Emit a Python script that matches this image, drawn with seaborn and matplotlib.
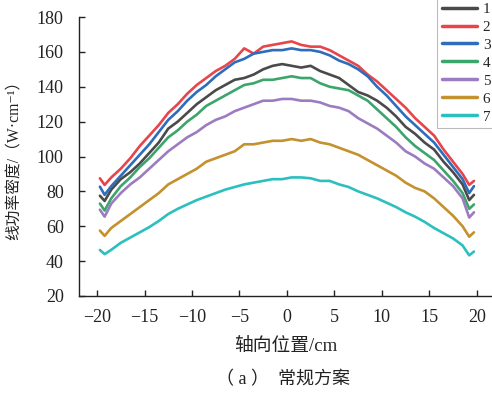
import numpy as np
import pandas as pd
import matplotlib
matplotlib.use("Agg")
import matplotlib.pyplot as plt
import seaborn as sns

# ---- data ----
positions = [-19.7, -19.2, -18.5, -17.5, -16.5, -15.5, -14.5, -13.5, -12.5, -11.5,
             -10.5, -9.5, -8.5, -7.5, -6.5, -5.5, -4.5, -3.5, -2.5, -1.5,
             -0.5, 0.5, 1.5, 2.5, 3.5, 4.5, 5.5, 6.5, 7.5, 8.5,
             9.5, 10.5, 11.5, 12.5, 13.5, 14.5, 15.5, 16.5, 17.5, 18.5,
             19.2, 19.7]

series_labels = ["1", "2", "3", "4", "5", "6", "7"]

s1 = [77.5, 74.5, 81, 87, 91, 96, 102, 108, 116, 120,
      125, 130, 134, 138, 141, 144, 145, 147, 150, 152,
      153, 152, 151, 152, 149, 147, 145, 141, 137, 135,
      132, 128, 123, 117, 113, 108, 104, 97, 91, 84,
      75, 78]
s2 = [87.5, 83.7, 88, 93, 99, 106, 112, 118, 125, 130,
      136, 141, 145, 149, 152, 156, 162, 159, 163, 164,
      165, 166, 164, 163, 163, 161, 158, 155, 152, 147,
      143, 138, 133, 128, 122, 117, 112, 104, 97, 90,
      83.7, 86]
s3 = [82.7, 78, 83, 89, 95, 101, 107, 114, 121, 126,
      132, 137, 141, 146, 150, 154, 156, 159, 160, 161,
      161, 162, 161, 161, 160, 158, 155, 153, 150, 146,
      140, 135, 129, 123, 118, 113, 108, 101, 94, 87,
      79, 83]
s4 = [73, 69, 76, 83, 88, 94, 99, 105, 111, 115,
      120, 124, 129, 132, 135, 138, 141, 142, 144, 144,
      145, 146, 145, 145, 142, 140, 139, 138, 135, 132,
      127, 122, 117, 111, 106, 102, 98, 92, 86, 79,
      70, 72.5]
s5 = [69.5, 65.5, 73, 79, 84, 88, 93, 98, 103, 107,
      111, 114, 118, 121, 123, 126, 128, 130, 132, 132,
      133, 133, 132, 132, 131, 129, 128, 126, 122, 119,
      116, 112, 108, 103, 100, 96, 93, 88, 83, 76,
      65, 68]
s6 = [57.5, 54.5, 59, 63, 67, 71, 75, 79, 84, 87,
      90, 93, 97, 99, 101, 103, 107, 107, 108, 109,
      109, 110, 109, 110, 108, 107, 105, 103, 101, 98,
      95, 92, 89, 85, 82, 80, 76, 71, 66, 60,
      54, 56.5]
s7 = [46.4, 44, 46.5, 50.5, 53.5, 56.5, 59.5, 63, 67, 70,
      72.5, 75, 77, 79, 81, 82.5, 84, 85, 86, 87,
      87, 88, 88, 87.5, 86, 86, 84, 82.5, 80, 78,
      76, 73.5, 71, 68, 65.5, 62.5, 59, 56, 53, 49,
      43.3, 45.5]

x_ticks = [-20, -15, -10, -5, 0, 5, 10, 15, 20]
y_ticks = [20, 40, 60, 80, 100, 120, 140, 160, 180]

colors = ["#4a4a4a", "#e8454b", "#2d6dbb", "#3ba56b", "#9b7cc1", "#c3912d", "#2cbfbf"]

# ---- build long-form table ----
all_series = [s1, s2, s3, s4, s5, s6, s7]
frames = []
for lab, vals in zip(series_labels, all_series):
    frames.append(pd.DataFrame({"pos": positions, "val": vals, "series": lab}))
df = pd.concat(frames, ignore_index=True)

sns.set_style("ticks")
plt.rcParams["font.family"] = ["Liberation Serif", "Noto Sans CJK SC", "DejaVu Sans"]
plt.rcParams["axes.unicode_minus"] = True

fig = plt.figure(figsize=(4.92, 4.0), dpi=100)
ax = fig.add_axes([79 / 492, 1 - 296 / 400, 1 - 79 / 492, (296 - 17) / 400])

sns.lineplot(data=df, x="pos", y="val", hue="series", palette=colors,
             linewidth=1.9, ax=ax, legend=True, sort=False)

ax.set_xlim(-21.9, 21.6)
ax.set_ylim(20, 180)
ax.set_xticks(x_ticks)
ax.set_yticks(y_ticks)
ax.tick_params(direction="in", length=4, width=1, labelsize=13, colors="#222222")
ax.tick_params(axis="x", pad=9)
ax.tick_params(axis="y", pad=11)
for side in ["top", "right"]:
    ax.spines[side].set_visible(False)
for side in ["left", "bottom"]:
    ax.spines[side].set_linewidth(1.0)
    ax.spines[side].set_color("#222222")

ax.set_xlabel("轴向位置/cm", fontsize=13.5, labelpad=9, color="#222222")
ax.set_ylabel("线功率密度/（W·cm⁻¹）", fontsize=11.3, labelpad=10, color="#222222")

leg = ax.legend(loc="upper left", bbox_to_anchor=(437 / 492, 1.006),
                bbox_transform=fig.transFigure, frameon=True, fontsize=11,
                handlelength=2.3, labelspacing=0.28, borderpad=0.3,
                handletextpad=0.4, borderaxespad=0, fancybox=False)
leg.get_frame().set_edgecolor("#aaaaaa")
leg.get_frame().set_linewidth(0.8)
for line in leg.get_lines():
    line.set_linewidth(2.5)

fig.text(0.575, 0.05, "（ a ）  常规方案", ha="center", va="center", fontsize=13, color="#222222")

fig.savefig("out.png", dpi=100)
